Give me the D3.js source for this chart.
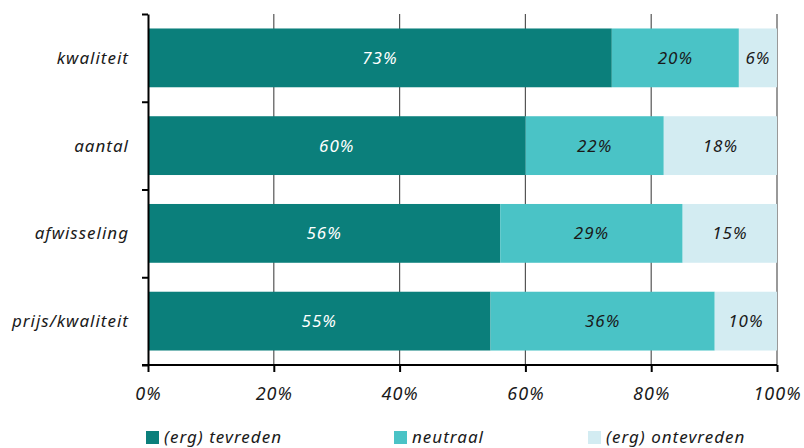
<!DOCTYPE html>
<html>
<head>
<meta charset="utf-8">
<script src="https://cdn.jsdelivr.net/npm/d3@7"></script>
<style>
  html, body { margin: 0; padding: 0; background: #fff; }
  svg text { font-family: "Noto Sans", "DejaVu Sans", sans-serif; font-style: italic; letter-spacing: 1px; }
</style>
</head>
<body>
<svg id="chart" width="804" height="448"></svg>
<script>
// Satisfaction scores per aspect (percent of respondents)
const categories = ["kwaliteit", "aantal", "afwisseling", "prijs/kwaliteit"];
const seriesNames = ["(erg) tevreden", "neutraal", "(erg) ontevreden"];
const tevreden   = [73, 60, 56, 55];
const neutraal   = [20, 22, 29, 36];
const ontevreden = [6, 18, 15, 10];
const xTicks = [0, 0.2, 0.4, 0.6, 0.8, 1];
const colors = ["#0b7f7b", "#4ac3c6", "#d3ecf2"];
const labelColors = ["#ffffff", "#1a1a1a", "#1a1a1a"];

const rows = categories.map((c, i) => ({
  cat: c,
  [seriesNames[0]]: tevreden[i],
  [seriesNames[1]]: neutraal[i],
  [seriesNames[2]]: ontevreden[i]
}));

const svg = d3.select("#chart");
const plotLeft = 148, plotRight = 777, plotTop = 14, plotBottom = 365;

const x = d3.scaleLinear().domain([0, 1]).range([plotLeft, plotRight]);
const y = d3.scaleBand().domain(categories).range([plotTop, plotBottom])
  .paddingInner(0.33).paddingOuter(0.165);
const yEdges = d3.scaleLinear().domain([0, categories.length]).range([plotTop, plotBottom]);

// 100% stacked layout
const stack = d3.stack().keys(seriesNames).offset(d3.stackOffsetExpand);
const layers = stack(rows);

// vertical gridlines
svg.append("g").selectAll("line")
  .data(xTicks.filter(t => t > 0))
  .join("line")
  .attr("x1", d => x(d)).attr("x2", d => x(d))
  .attr("y1", plotTop).attr("y2", plotBottom)
  .attr("stroke", "#555").attr("stroke-width", 1.2);

// bars
const g = svg.append("g");
layers.forEach((layer, li) => {
  g.append("g").selectAll("rect")
    .data(layer)
    .join("rect")
    .attr("x", d => x(d[0]))
    .attr("width", d => x(d[1]) - x(d[0]))
    .attr("y", d => y(d.data.cat))
    .attr("height", y.bandwidth())
    .attr("fill", colors[li]);
  g.append("g").selectAll("text")
    .data(layer)
    .join("text")
    .attr("x", d => (x(d[0]) + x(d[1])) / 2)
    .attr("y", d => y(d.data.cat) + y.bandwidth() / 2)
    .attr("dy", "0.36em")
    .attr("text-anchor", "middle")
    .attr("font-size", 17)
    .attr("fill", labelColors[li])
    .text(d => d.data[seriesNames[li]] + "%");
});

// y axis: ticks at band boundaries
const yAxis = svg.append("g")
  .attr("transform", `translate(${plotLeft},0)`)
  .call(d3.axisLeft(yEdges).ticks(categories.length).tickSize(6).tickSizeOuter(0).tickFormat(""));
yAxis.selectAll("path, line").attr("stroke", "#000").attr("stroke-width", 2);

// category labels
svg.append("g").selectAll("text")
  .data(categories)
  .join("text")
  .attr("x", plotLeft - 19)
  .attr("y", d => y(d) + y.bandwidth() / 2)
  .attr("dy", "0.36em")
  .attr("text-anchor", "end")
  .attr("font-size", 17)
  .attr("fill", "#1a1a1a")
  .text(d => d);

// x axis
const xAxis = svg.append("g")
  .attr("transform", `translate(0,${plotBottom})`)
  .call(d3.axisBottom(x).tickValues(xTicks).tickFormat(d3.format(".0%")).tickSize(7).tickSizeOuter(0));
xAxis.select(".domain").remove();
xAxis.append("line")
  .attr("x1", plotLeft - 6).attr("x2", plotRight).attr("y1", 0).attr("y2", 0)
  .attr("stroke", "#000").attr("stroke-width", 2);
xAxis.selectAll(".tick line").attr("stroke", "#000").attr("stroke-width", 2);
xAxis.attr("font-family", null).attr("font-size", null);
xAxis.selectAll(".tick text")
  .attr("y", 35).attr("dy", 0)
  .attr("font-size", 18)
  .attr("fill", "#1a1a1a");

// legend
const legendX = [146, 394, 588];
const legend = svg.append("g").selectAll("g")
  .data(seriesNames)
  .join("g")
  .attr("transform", (d, i) => `translate(${legendX[i]},431)`);
legend.append("rect")
  .attr("width", 13).attr("height", 13)
  .attr("fill", (d, i) => colors[i]);
legend.append("text")
  .attr("x", 18).attr("y", 12)
  .attr("font-size", 17)
  .attr("fill", "#1a1a1a")
  .text(d => d);
</script>
</body>
</html>
